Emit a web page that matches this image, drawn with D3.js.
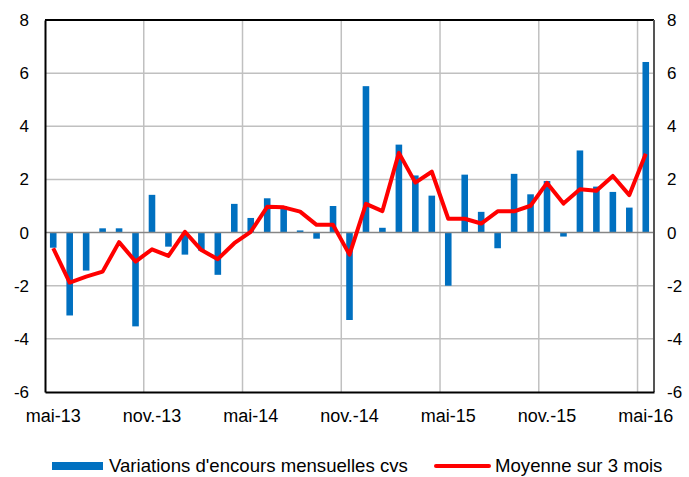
<!DOCTYPE html>
<html>
<head>
<meta charset="utf-8">
<script src="https://cdn.jsdelivr.net/npm/d3@7"></script>
<style>
  body { margin: 0; background: #fff; }
  svg text { font-family: "Liberation Sans", Arial, sans-serif; fill: #000; }
</style>
</head>
<body>
<div id="chart"></div>
<script>
const months = [
  'mai-13', 'juin-13', 'juil.-13', 'août-13', 'sept.-13', 'oct.-13',
  'nov.-13', 'déc.-13', 'janv.-14', 'févr.-14', 'mars-14', 'avr.-14',
  'mai-14', 'juin-14', 'juil.-14', 'août-14', 'sept.-14', 'oct.-14',
  'nov.-14', 'déc.-14', 'janv.-15', 'févr.-15', 'mars-15', 'avr.-15',
  'mai-15', 'juin-15', 'juil.-15', 'août-15', 'sept.-15', 'oct.-15',
  'nov.-15', 'déc.-15', 'janv.-16', 'févr.-16', 'mars-16', 'avr.-16',
  'mai-16'
];
const variations = [
  -0.57, -3.12, -1.43, 0.16, 0.16, -3.53,
  1.42, -0.53, -0.83, -0.68, -1.59, 1.08,
  0.55, 1.29, 1.0, 0.08, -0.23, 1.0,
  -3.29, 5.51, 0.18, 3.31, 2.15, 1.39,
  -2.0, 2.18, 0.78, -0.59, 2.21, 1.44,
  1.94, -0.15, 3.09, 1.73, 1.53, 0.94,
  6.42
];
const moyenne3 = [
  -0.59, -1.88, -1.66, -1.47, -0.36, -1.09,
  -0.63, -0.88, 0.03, -0.66, -1.0, -0.4,
  0.03, 0.97, 0.95, 0.79, 0.29, 0.29,
  -0.83, 1.08, 0.81, 3.0, 1.88, 2.29,
  0.52, 0.52, 0.34, 0.8, 0.8, 1.01,
  1.87, 1.09, 1.63, 1.57, 2.13, 1.41,
  2.97
];
const yTicks = [-6, -4, -2, 0, 2, 4, 6, 8];
const labelledMonths = ['mai-13', 'nov.-13', 'mai-14', 'nov.-14', 'mai-15', 'nov.-15', 'mai-16'];
const seriesNames = ["Variations d'encours mensuelles cvs", 'Moyenne sur 3 mois'];

const W = 689, H = 477;
const margin = { top: 20, right: 35, bottom: 85, left: 45 };
const width = W - margin.left - margin.right;
const height = H - margin.top - margin.bottom;

const svg = d3.select('#chart')
  .append('svg')
  .attr('width', W)
  .attr('height', H);

const g = svg.append('g')
  .attr('transform', `translate(${margin.left}, ${margin.top})`);

const xScale = d3.scaleBand()
  .domain(months)
  .range([0, width])
  .padding(0);

const yScale = d3.scaleLinear()
  .domain([-6, 8])
  .range([height, 0]);

// horizontal grid
g.selectAll('.hgrid')
  .data(yTicks.filter((t) => t !== 0 && t !== -6 && t !== 8))
  .enter()
  .append('line')
  .attr('class', 'hgrid')
  .attr('x1', 0)
  .attr('x2', width)
  .attr('y1', (d) => yScale(d))
  .attr('y2', (d) => yScale(d))
  .attr('stroke', '#c0c0c0')
  .attr('stroke-width', 1.5);

// vertical grid every 6 months
g.selectAll('.vgrid')
  .data(labelledMonths.slice(1))
  .enter()
  .append('line')
  .attr('class', 'vgrid')
  .attr('x1', (d) => xScale(d))
  .attr('x2', (d) => xScale(d))
  .attr('y1', 0)
  .attr('y2', height)
  .attr('stroke', '#c0c0c0')
  .attr('stroke-width', 1.5);

// bars
const barW = xScale.bandwidth() * 0.4;
g.selectAll('.bar')
  .data(variations)
  .enter()
  .append('rect')
  .attr('class', 'bar')
  .attr('x', (d, i) => xScale(months[i]) + (xScale.bandwidth() - barW) / 2)
  .attr('y', (d) => yScale(Math.max(0, d)))
  .attr('width', barW)
  .attr('height', (d) => Math.abs(yScale(d) - yScale(0)))
  .attr('fill', '#0070c0');

// zero line
g.append('line')
  .attr('x1', 0)
  .attr('x2', width)
  .attr('y1', yScale(0))
  .attr('y2', yScale(0))
  .attr('stroke', '#868686')
  .attr('stroke-width', 1.5);

// frame
g.append('line').attr('x1', 0).attr('x2', width).attr('y1', 0).attr('y2', 0)
  .attr('stroke', '#000').attr('stroke-width', 2);
g.append('line').attr('x1', width).attr('x2', width).attr('y1', 0).attr('y2', height)
  .attr('stroke', '#555').attr('stroke-width', 2);

// 3 month average line
const line = d3.line()
  .x((d, i) => xScale(months[i]) + xScale.bandwidth() / 2)
  .y((d) => yScale(d));

g.append('path')
  .datum(moyenne3)
  .attr('d', line)
  .attr('fill', 'none')
  .attr('stroke', '#ff0000')
  .attr('stroke-width', 4)
  .attr('stroke-linejoin', 'round');

// axes (plain hyphen for negatives, as in the original)
const fmt = (d) => String(d);
const yAxisL = d3.axisLeft(yScale).tickValues(yTicks).tickFormat(fmt).tickSize(0).tickPadding(16);
g.append('g').attr('class', 'y-axis').call(yAxisL);

const yAxisR = d3.axisRight(yScale).tickValues(yTicks).tickFormat(fmt).tickSize(0).tickPadding(13);
g.append('g').attr('class', 'y-axis-r')
  .attr('transform', `translate(${width}, 0)`)
  .call(yAxisR);

const xAxis = d3.axisBottom(xScale).tickValues(labelledMonths).tickSize(0).tickPadding(17);
g.append('g').attr('class', 'x-axis')
  .attr('transform', `translate(0, ${height})`)
  .call(xAxis);

g.selectAll('.y-axis-r path').remove();
g.selectAll('.x-axis path, .y-axis path').attr('stroke', '#000').attr('stroke-width', 2);
g.selectAll('.y-axis text, .y-axis-r text')
  .attr('font-size', 17)
  .style('font-family', '"Liberation Sans", Arial, sans-serif');
g.selectAll('.x-axis text')
  .attr('font-size', 18)
  .style('font-family', '"Liberation Sans", Arial, sans-serif');

// legend
const legend = svg.append('g').attr('class', 'legend');
legend.append('rect')
  .attr('x', 52).attr('y', 462)
  .attr('width', 51).attr('height', 8)
  .attr('fill', '#0070c0');
legend.append('text')
  .attr('x', 109).attr('y', 472)
  .attr('font-size', 18.6)
  .text(seriesNames[0]);
legend.append('line')
  .attr('x1', 436).attr('x2', 489)
  .attr('y1', 466).attr('y2', 466)
  .attr('stroke', '#ff0000').attr('stroke-width', 4).attr('stroke-linecap', 'round');
legend.append('text')
  .attr('x', 495).attr('y', 472)
  .attr('font-size', 18.6)
  .text(seriesNames[1]);
</script>
</body>
</html>
